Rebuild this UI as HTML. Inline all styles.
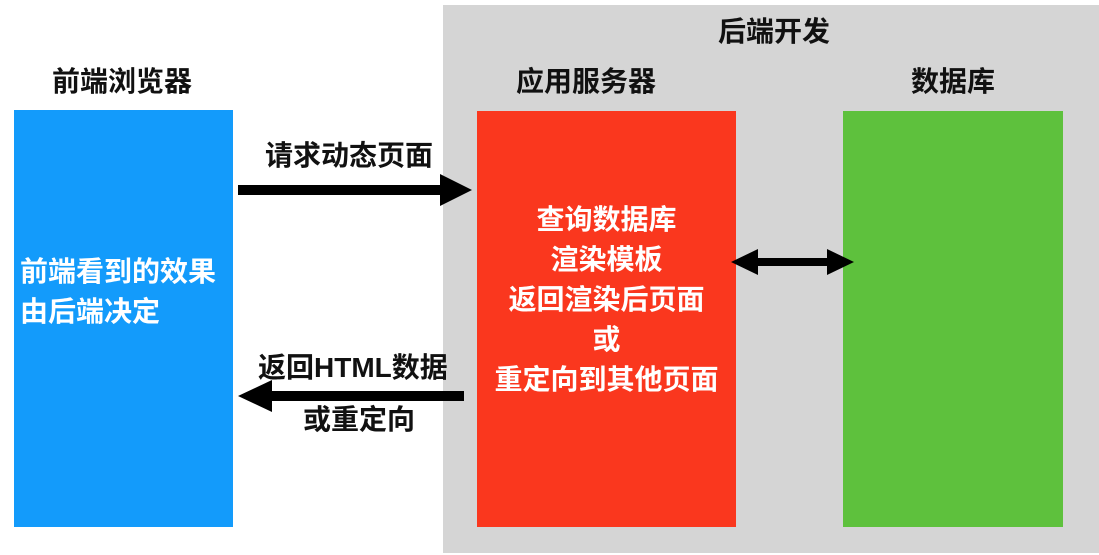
<!DOCTYPE html>
<html><head><meta charset="utf-8"><style>
body{margin:0;width:1099px;height:555px;background:#fff;position:relative;overflow:hidden;font-family:"Liberation Sans","Noto Sans CJK SC",sans-serif;font-weight:bold;}
div{position:absolute;}
.t{font-size:28px;color:#111;white-space:nowrap;line-height:1;}
.w{color:#fff;font-size:28px;text-align:center;line-height:40px;white-space:nowrap;}
</style></head><body>
<div style="left:443px;top:5px;width:656px;height:548px;background:#d5d5d5"></div>
<div style="left:14px;top:110px;width:219px;height:417px;background:#139bfb"></div>
<div style="left:477px;top:111px;width:259px;height:416px;background:#fa371e"></div>
<div style="left:843px;top:111px;width:220px;height:416px;background:#5ec13d"></div>
<div class="t" style="left:718px;top:18px">后端开发</div>
<div class="t" style="left:52px;top:68px">前端浏览器</div>
<div class="t" style="left:516px;top:68px">应用服务器</div>
<div class="t" style="left:911px;top:68px">数据库</div>
<div class="t" style="left:265px;top:142px">请求动态页面</div>
<div class="t" style="left:258px;top:354px">返回HTML数据</div>
<div class="t" style="left:303px;top:406px">或重定向</div>
<div class="w" style="left:14px;top:252px;width:219px;text-align:left;padding-left:6px">前端看到的效果<br>由后端决定</div>
<div class="w" style="left:477px;top:200px;width:259px">查询数据库<br>渲染模板<br>返回渲染后页面<br>或<br>重定向到其他页面</div>
<svg style="position:absolute;left:0;top:0" width="1099" height="555">
<line x1="238" y1="190" x2="445" y2="190" stroke="#000" stroke-width="10"/>
<polygon points="440,174 472,190 440,206" fill="#000"/>
<line x1="268" y1="396" x2="464" y2="396" stroke="#000" stroke-width="10"/>
<polygon points="272,380 238,396 272,412" fill="#000"/>
<line x1="755" y1="262" x2="830" y2="262" stroke="#000" stroke-width="8"/>
<polygon points="758,249 731,262 758,275" fill="#000"/>
<polygon points="827,249 854,262 827,275" fill="#000"/>
</svg>
</body></html>
